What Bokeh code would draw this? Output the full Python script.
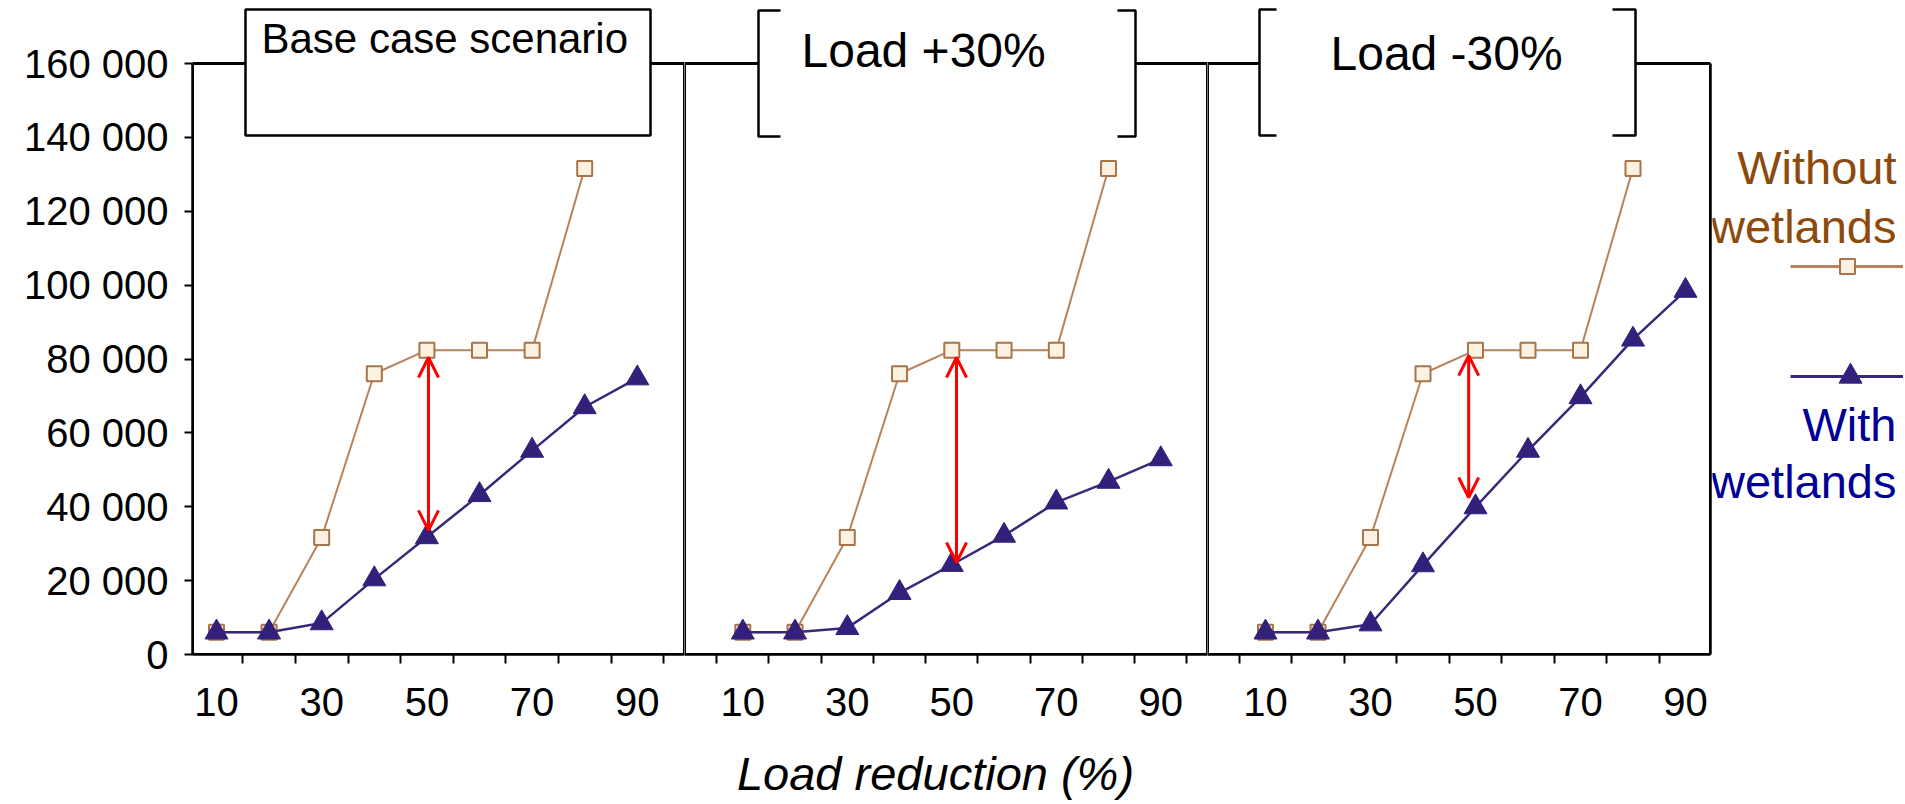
from bokeh.plotting import figure
from bokeh.layouts import row, column
from bokeh.models import Range1d, FixedTicker, BoxAnnotation, Label, Arrow, OpenHead, LinearAxis
from bokeh.embed import file_html
from bokeh.resources import INLINE
from bokeh.core.properties import value

# ---------------- data ----------------
panel_titles = ["Base case scenario", "Load +30%", "Load -30%"]
load_reduction = [10, 20, 30, 40, 50, 60, 70, 80, 90]

without_base = [6000, 6000, 31700, 76000, 82400, 82400, 82400, 131600]
without_plus30 = [6000, 6000, 31700, 76000, 82400, 82400, 82400, 131600]
without_minus30 = [6000, 6000, 31700, 76000, 82400, 82400, 82400, 131600]

with_base = [6000, 6000, 8500, 20400, 31800, 43200, 55200, 67000, 74800]
with_plus30 = [6000, 6000, 7200, 16700, 24300, 32200, 41200, 46800, 52900]
with_minus30 = [6000, 6000, 8200, 24200, 39900, 55200, 69700, 85300, 98500]

arrow_x = [50.3, 50.9, 48.7]
arrow_top = [80400, 80400, 80900]
arrow_bottom = [33600, 24900, 42500]

y_ticks = [0, 20000, 40000, 60000, 80000, 100000, 120000, 140000, 160000]
y_tick_labels = ["0", "20 000", "40 000", "60 000", "80 000", "100 000", "120 000", "140 000", "160 000"]
x_tick_values = [10, 30, 50, 70, 90]
x_label = "Load reduction (%)"
legend_lines = ["Without", "wetlands", "With", "wetlands"]

series_without = [without_base, without_plus30, without_minus30]
series_with = [with_base, with_plus30, with_minus30]

# ---------------- styling / layout ----------------
FONT = "Liberation Sans"
BROWN_LINE = "#b8835a"
BROWN_EDGE = "#a8744a"
BROWN_FILL = "#fdf1e2"
PURPLE = "#33207a"
PURPLE_LINE = "#3a2878"
BROWN_TEXT = "#8c4a0c"
NAVY_TEXT = "#000096"
BASE_SHIFT = 0.35  # alphabetic-baseline correction (fraction of font size)

H_ROW = 745
H_LABEL = 57
Y0_PIX, Y160_PIX = 654, 63
Y_PER_PIX = 160000 / (Y0_PIX - Y160_PIX)


def yd(pix):
    return (Y0_PIX - pix) * Y_PER_PIX


def base(pix, fs):
    # page pixel of a text baseline -> position handed to bokeh
    return pix - BASE_SHIFT * fs


Y_TOP = yd(0)

panels = [
    dict(x10=216.0, ppu=5.26, left=192, right=684, canvas_left=0),
    dict(x10=742.3, ppu=5.225, left=684, right=1207, canvas_left=684),
    dict(x10=1265.0, ppu=5.25, left=1207, right=1710, canvas_left=1207),
]
title_specs = [
    dict(box=(245, 650, 9, 135), gap=None, text_xy=(261, 53), size=42),
    dict(box=(758, 1135, 10, 136), gap=(780, 1117), text_xy=(801, 67), size=48),
    dict(box=(1259, 1635, 9, 135), gap=(1276, 1612), text_xy=(1330, 70), size=48),
]
minor_ticks = [v - 5 for v in load_reduction] + [load_reduction[-1] + 5]

figs = []
for i, cfg in enumerate(panels):
    def xd(pix, c=cfg):
        return 10 + (pix - c["x10"]) / c["ppu"]

    first = i == 0
    last = i == len(panels) - 1
    width = cfg["right"] - cfg["canvas_left"] + (2 if last else 0)
    p = figure(width=width, height=H_ROW,
               x_range=Range1d(xd(cfg["left"]), xd(cfg["right"])),
               y_range=Range1d(0, Y_TOP),
               toolbar_location=None, output_backend="svg",
               min_border=0,
               min_border_left=cfg["left"] - cfg["canvas_left"],
               min_border_right=2 if last else 0,
               min_border_top=0,
               min_border_bottom=H_ROW - Y0_PIX,
               y_axis_location="left" if first else None,
               outline_line_color=None,
               background_fill_color="white", border_fill_color="white")
    p.xgrid.visible = False
    p.ygrid.visible = False

    # x axis
    xa = p.xaxis[0]
    xa.ticker = FixedTicker(ticks=x_tick_values, minor_ticks=minor_ticks)
    xa.axis_line_width = 2.5
    xa.axis_line_color = "black"
    xa.major_tick_out = 0
    xa.major_tick_in = 0
    xa.major_tick_line_color = None
    xa.minor_tick_out = 9
    xa.minor_tick_in = 0
    xa.minor_tick_line_width = 2
    xa.minor_tick_line_color = "black"
    xa.major_label_standoff = 24
    xa.major_label_text_font = FONT
    xa.major_label_text_font_size = "40px"
    xa.major_label_text_color = "black"

    if first:
        ya = p.yaxis[0]
        ya.ticker = FixedTicker(ticks=y_ticks)
        ya.major_label_overrides = {t: l for t, l in zip(y_ticks, y_tick_labels)}
        ya.bounds = (0, 160000)
        ya.axis_line_width = 2.5
        ya.axis_line_color = "black"
        ya.major_tick_out = 8
        ya.major_tick_in = 0
        ya.major_tick_line_width = 2
        ya.minor_tick_line_color = None
        ya.major_label_standoff = 16
        ya.major_label_text_font = FONT
        ya.major_label_text_font_size = "40px"
        ya.major_label_text_color = "black"

    if last:
        ra = LinearAxis(bounds=(0, 160000), ticker=FixedTicker(ticks=[]),
                        major_tick_out=0, major_tick_in=0, minor_tick_out=0, minor_tick_in=0,
                        major_label_standoff=0, axis_label_standoff=0,
                        axis_line_width=2.5, axis_line_color="black")
        p.add_layout(ra, "right")

    # panel frame (top + sides)
    p.add_layout(BoxAnnotation(left=xd(cfg["left"]), right=xd(cfg["right"]), top=160000, bottom=0,
                               fill_alpha=0, line_color="black", line_alpha=1, line_width=3))

    # data
    wo = series_without[i]
    wi = series_with[i]
    p.line(load_reduction[:len(wo)], wo, line_color=BROWN_LINE, line_width=2)
    p.scatter(load_reduction[:len(wo)], wo, marker="square", size=15,
              line_color=BROWN_EDGE, line_width=2, fill_color=BROWN_FILL)
    p.line(load_reduction[:len(wi)], wi, line_color=PURPLE_LINE, line_width=2.5)
    p.scatter(load_reduction[:len(wi)], wi, marker="triangle", size=23,
              line_color=PURPLE, fill_color=PURPLE, line_width=1)

    # title box
    ts = title_specs[i]
    l, r, t, b = ts["box"]
    p.add_layout(BoxAnnotation(left=xd(l), right=xd(r), top=yd(t), bottom=yd(b),
                               fill_color="white", fill_alpha=1, line_color="black",
                               line_alpha=1, line_width=2.5))
    if ts["gap"] is not None:
        gl, gr = ts["gap"]
        p.add_layout(BoxAnnotation(left=xd(gl), right=xd(gr), top=yd(-2), bottom=yd(147),
                                   fill_color="white", fill_alpha=1, line_color=None, line_alpha=0))
    tx, ty = ts["text_xy"]
    p.add_layout(Label(x=xd(tx), y=yd(base(ty, ts["size"])), text=panel_titles[i], text_font=FONT,
                       text_font_size=f'{ts["size"]}px', text_color="black",
                       text_align="left", text_baseline="alphabetic"))

    # red double arrow
    p.add_layout(Arrow(start=OpenHead(size=20, line_color="red", line_width=3),
                       end=OpenHead(size=20, line_color="red", line_width=3),
                       x_start=arrow_x[i], y_start=arrow_bottom[i],
                       x_end=arrow_x[i], y_end=arrow_top[i],
                       line_color="red", line_width=3))
    figs.append(p)

# ---------------- legend panel ----------------
LG_LEFT = 1712
LG_W = 1903 - LG_LEFT
lg = figure(width=LG_W, height=H_ROW, x_range=Range1d(LG_LEFT, LG_LEFT + LG_W), y_range=Range1d(0, Y_TOP),
            toolbar_location=None, output_backend="svg", min_border=0,
            x_axis_location=None, y_axis_location=None, outline_line_color=None,
            background_fill_color="white", border_fill_color="white")
lg.xgrid.visible = False
lg.ygrid.visible = False
lg.line([1790, LG_LEFT + LG_W], [yd(266), yd(266)], line_color=BROWN_LINE, line_width=3)
lg.scatter([1847], [yd(266)], marker="square", size=15, line_color=BROWN_EDGE, line_width=2,
           fill_color=BROWN_FILL)
lg.line([1790, LG_LEFT + LG_W], [yd(376), yd(376)], line_color=PURPLE_LINE, line_width=3)
lg.scatter([1850], [yd(376)], marker="triangle", size=23, line_color=PURPLE, fill_color=PURPLE)
LG_FS = 47
lg.text(x=[1896] * 4,
        y=[yd(base(183, LG_FS)), yd(base(242, LG_FS)), yd(base(440, LG_FS)), yd(base(497, LG_FS))],
        text=legend_lines,
        text_align="right", text_baseline="alphabetic",
        text_color=[BROWN_TEXT, BROWN_TEXT, NAVY_TEXT, NAVY_TEXT],
        text_font=value(FONT), text_font_size=f"{LG_FS}px")

# ---------------- x-axis title strip ----------------
XL_FS = 47
xl = figure(width=1900, height=H_LABEL, x_range=Range1d(0, 1900), y_range=Range1d(H_ROW + H_LABEL, H_ROW),
            toolbar_location=None, output_backend="svg", min_border=0,
            x_axis_location=None, y_axis_location=None, outline_line_color=None,
            background_fill_color="white", border_fill_color="white")
xl.xgrid.visible = False
xl.ygrid.visible = False
xl.text(x=[935], y=[base(789, XL_FS)], text=[x_label], text_align="center", text_baseline="alphabetic",
        text_font=value(FONT), text_font_size=f"{XL_FS}px", text_font_style="italic", text_color="black")

layout = column(row(*figs, lg), xl)
open("out.html", "w").write(file_html(layout, INLINE))
